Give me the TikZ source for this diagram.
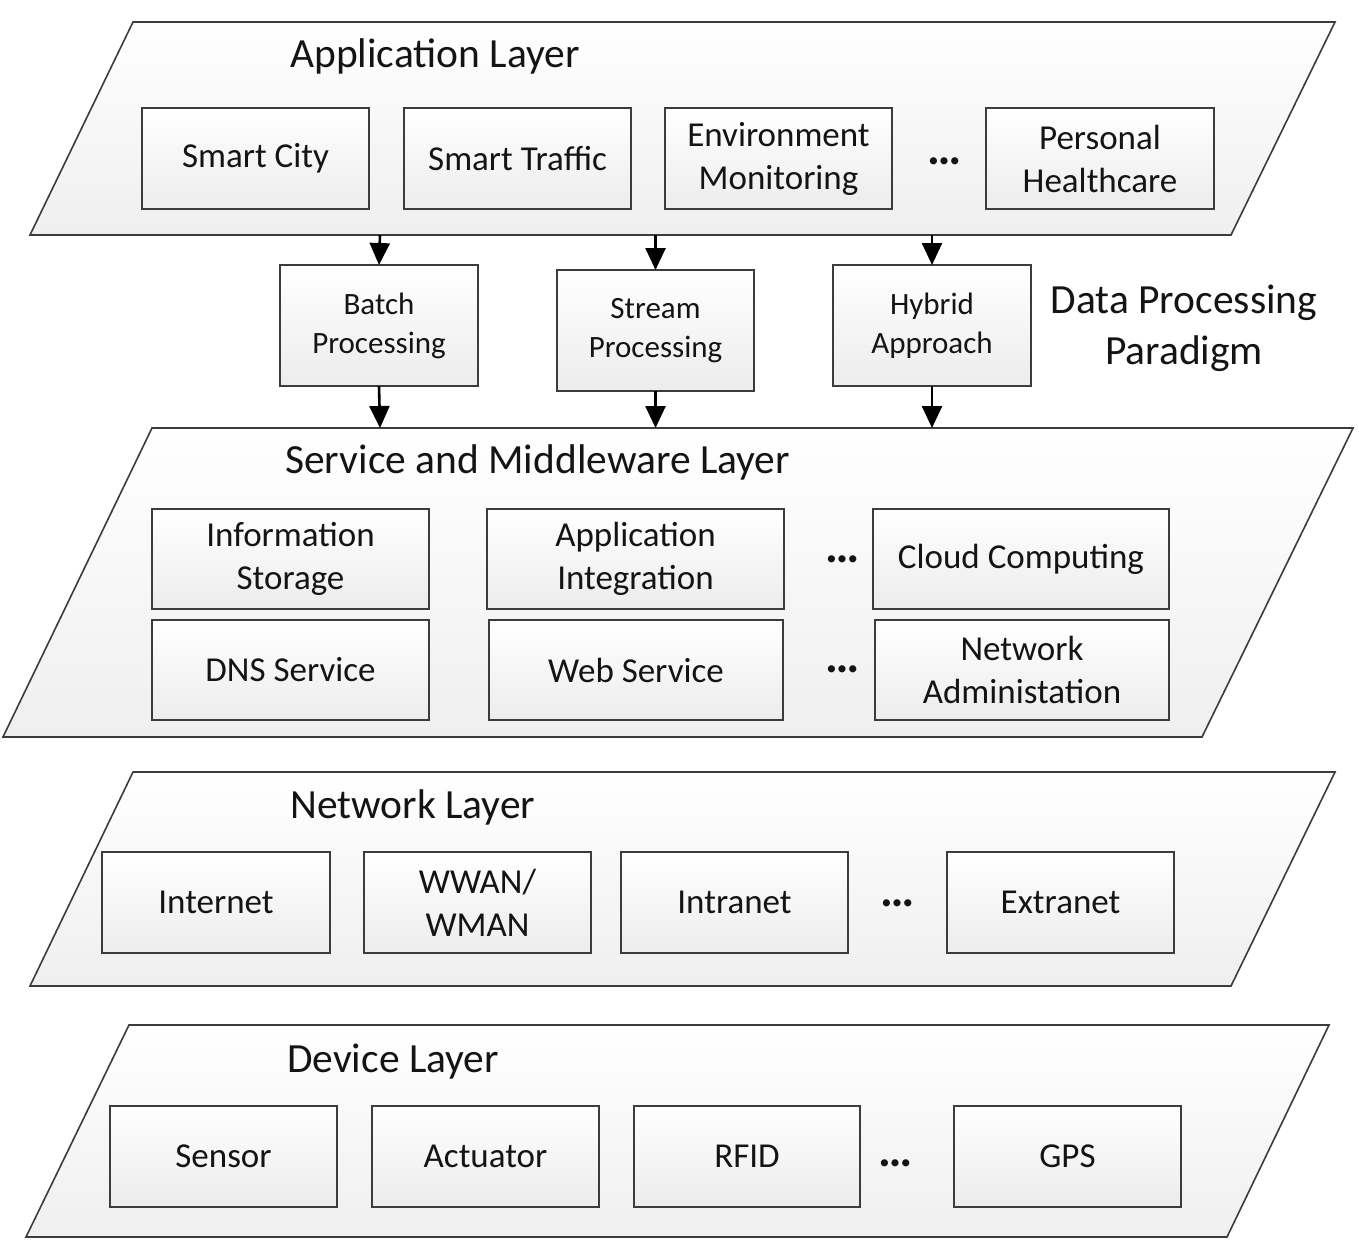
\documentclass[tikz,border=0pt]{standalone}
\usepackage{fontspec}
\setmainfont{Carlito}
\usetikzlibrary{arrows.meta}
\definecolor{linegray}{HTML}{3C3C3C}
\definecolor{layerbot}{HTML}{EFEFEF}
\definecolor{boxbot}{HTML}{ECECEC}
\definecolor{textc}{HTML}{141414}
\tikzset{
  layer/.style={draw=linegray, line width=1.6pt, top color=white, bottom color=layerbot},
  box/.style={draw=linegray, line width=1.6pt, top color=white, bottom color=boxbot,
    inner sep=0pt, outer sep=0pt, align=center, text=textc,
    font=\fontsize{35}{43}\selectfont},
  procbox/.style={box, font=\fontsize{31}{39}\selectfont},
  title/.style={anchor=base west, inner sep=0pt, text=textc, font=\fontsize{41.5}{51}\selectfont},
  arr/.style={-{Triangle[length=22pt,width=20pt]}, line width=2.6pt, black},
  dots/.style={inner sep=0pt, text=textc, font=\fontsize{48}{52}\selectfont\bfseries}
}
\newcommand{\mybox}[7][box]{\node[#1, minimum width={#5-#3}, minimum height={#6-#4}] (#2) at ({(#3+#5)/2},{(#4+#6)/2}) {#7};}
\begin{document}
\begin{tikzpicture}[x=1pt,y=-1pt]
\useasboundingbox (0,0) rectangle (1359,1243);
% layers
\path[layer] (133,22) -- (1335,22) -- (1231,235) -- (30,235) -- cycle;
\path[layer] (152,428) -- (1353,428) -- (1202,737) -- (3,737) -- cycle;
\path[layer] (133,772) -- (1335,772) -- (1231,986) -- (30,986) -- cycle;
\path[layer] (129,1025) -- (1329,1025) -- (1227,1237) -- (26,1237) -- cycle;
% titles
\node[title] (tapp) at (290,67) {Application Layer};
\node[title] (tsrv) at (285,473) {Service and Middleware Layer};
\node[title] (tnet) at (290,818) {Network Layer};
\node[title] (tdev) at (287,1072) {Device Layer};
\node[inner sep=0pt, align=center, text=textc, font=\fontsize{41.5}{51}\selectfont] (tdp) at (1184,328) {Data Processing\\Paradigm};
% application layer
\mybox{city}{142}{108}{369}{209}{Smart City}
\mybox{traffic}{404}{108}{631}{209}{Smart Traffic}
\mybox{env}{665}{108}{892}{209}{Environment\\Monitoring}
\mybox{health}{986}{108}{1214}{209}{Personal\\Healthcare}
\node[dots] (d1) at (945,161) {…};
% processing
\mybox[procbox]{batch}{280}{265}{478}{386}{Batch\\Processing}
\mybox[procbox]{stream}{557}{270}{754}{391}{Stream\\Processing}
\mybox[procbox]{hybrid}{833}{265}{1031}{386}{Hybrid\\Approach}
\coordinate (a1) at (380,235);
\coordinate (a2) at (655.5,235);
\coordinate (a3) at (932,235);
\coordinate (b1) at (380,428);
\coordinate (b2) at (655.5,428);
\coordinate (b3) at (932,428);
\draw[arr] (a1) -- (batch.north);
\draw[arr] (a2) -- (stream.north);
\draw[arr] (a3) -- (hybrid.north);
\draw[arr] (batch.south) -- (b1);
\draw[arr] (stream.south) -- (b2);
\draw[arr] (hybrid.south) -- (b3);
% service layer
\mybox{info}{152}{509}{429}{609}{Information\\Storage}
\mybox{appint}{487}{509}{784}{609}{Application\\Integration}
\mybox{cloud}{873}{509}{1169}{609}{Cloud Computing}
\mybox{dns}{152}{620}{429}{720}{DNS Service}
\mybox{web}{489}{620}{783}{720}{Web Service}
\mybox{netadm}{875}{620}{1169}{720}{Network\\Administation}
\node[dots] (d2) at (843,559) {…};
\node[dots] (d3) at (843,669) {…};
% network layer
\mybox{internet}{102}{852}{330}{953}{Internet}
\mybox{wwan}{364}{852}{591}{953}{WWAN/\\WMAN}
\mybox{intranet}{621}{852}{848}{953}{Intranet}
\mybox{extranet}{947}{852}{1174}{953}{Extranet}
\node[dots] (d4) at (898,903) {…};
% device layer
\mybox{sensor}{110}{1106}{337}{1207}{Sensor}
\mybox{actuator}{372}{1106}{599}{1207}{Actuator}
\mybox{rfid}{634}{1106}{860}{1207}{RFID}
\mybox{gps}{954}{1106}{1181}{1207}{GPS}
\node[dots] (d5) at (896,1163) {…};
\end{tikzpicture}
\end{document}
